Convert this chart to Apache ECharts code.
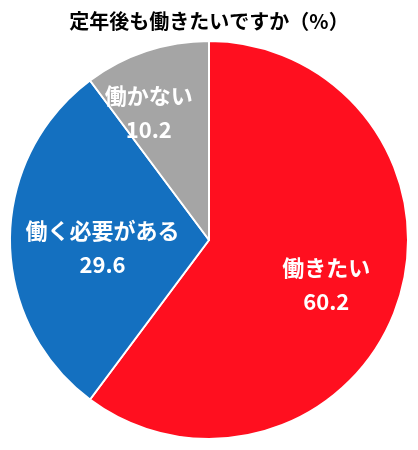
<!DOCTYPE html>
<html>
<head>
<meta charset="utf-8">
<script src="https://cdn.jsdelivr.net/npm/echarts@6/dist/echarts.min.js"></script>
<style>
html,body{margin:0;padding:0;background:#fff;}
#chart{width:418px;height:450px;}
</style>
</head>
<body>
<div id="chart"></div>
<script>
// 定年後も働きたいですか
var categories = ['働きたい', '働く必要がある', '働かない'];
var values = [60.2, 29.6, 10.2];
var colors = ['#FF0F1F', '#1470C0', '#A5A5A5'];
var labelOffsets = [[20, 12], [-4, 8], [-28, -30]];

var pieData = [];
for (var i = 0; i < categories.length; i++) {
    pieData.push({
        name: categories[i],
        value: values[i],
        itemStyle: {color: colors[i]},
        label: {offset: labelOffsets[i]}
    });
}

var myChart = echarts.init(document.getElementById('chart'));
myChart.setOption({
    animation: false,
    title: {
        text: '定年後も働きたいですか（%）',
        left: 'center',
        top: 6,
        textStyle: {fontFamily: 'Noto Sans CJK JP', fontSize: 20, fontWeight: 'bold', color: '#000'}
    },
    series: [{
        type: 'pie',
        radius: 199,
        center: [209, 240],
        startAngle: 90,
        clockwise: true,
        data: pieData,
        itemStyle: {borderColor: '#fff', borderWidth: 2},
        label: {
            show: true,
            position: 'inside',
            formatter: '{b}\n{c}',
            color: '#fff',
            fontSize: 22,
            fontWeight: 'bold',
            lineHeight: 34,
            fontFamily: 'Noto Sans CJK JP'
        },
        emphasis: {disabled: true}
    }]
});
</script>
</body>
</html>
